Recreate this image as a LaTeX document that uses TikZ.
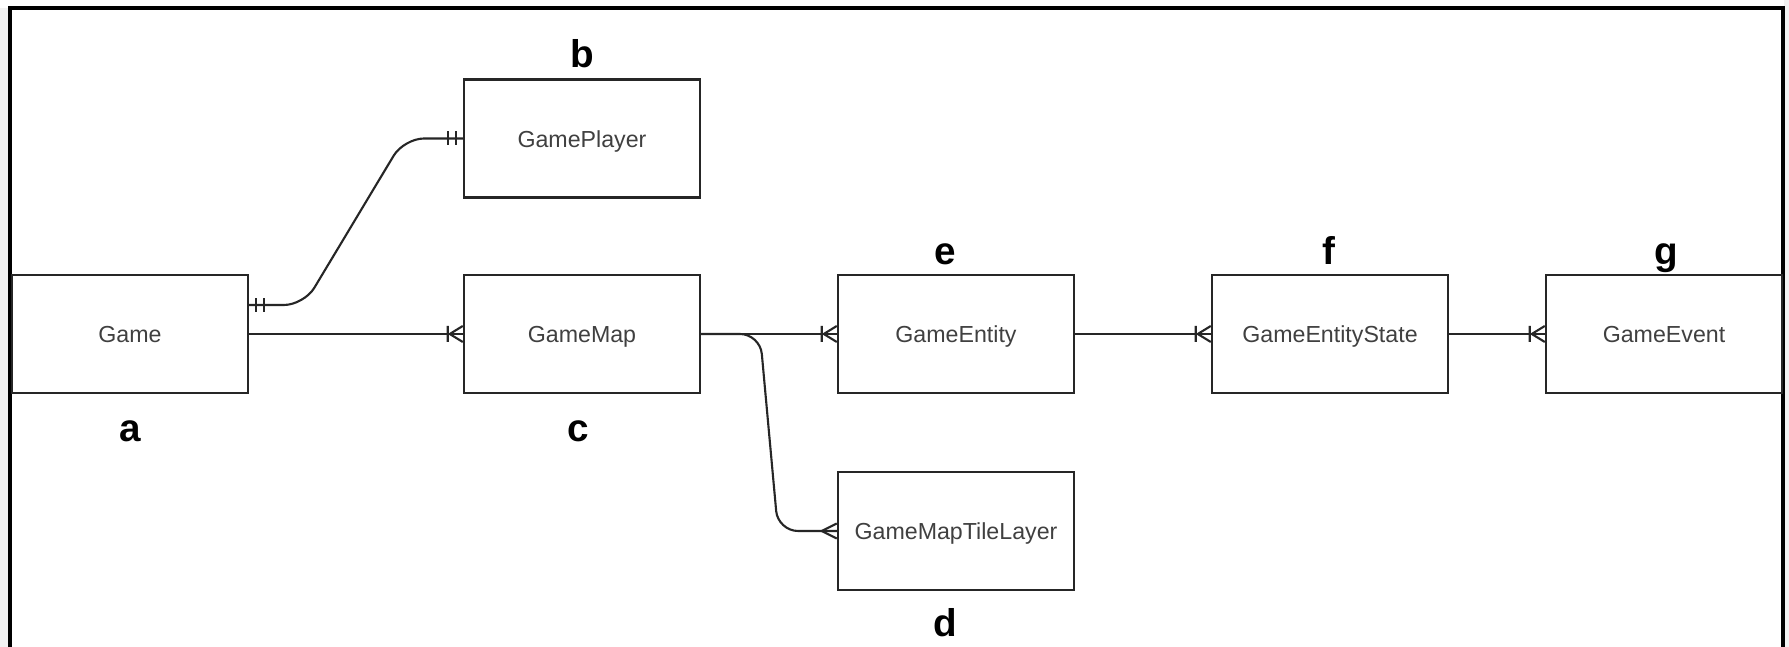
\documentclass[tikz,border=0pt]{standalone}
\usepackage{fontspec}
\setsansfont{Liberation Sans}
\usetikzlibrary{positioning}

\begin{document}
\begin{tikzpicture}[font=\sffamily,
    entity/.style={draw=black!85,line width=0.7pt,fill=white,minimum width=2.36cm,minimum height=1.18cm,
      font=\sffamily\fontsize{6.6}{8}\selectfont,text=black!75,text height=1.6ex,text depth=0.45ex},
    tag/.style={font=\sffamily\bfseries\fontsize{11}{13}\selectfont,text height=1.6ex,text depth=0.45ex},
    rel/.style={draw=black!85,line width=0.6pt},
    onemany/.pic={\draw[rel] (-0.13,0) -- (0,0.08) (-0.13,0) -- (0,-0.08) (-0.15,0.08) -- (-0.15,-0.08);},
    many/.pic={\draw[rel] (-0.15,0) -- (0,0.075) (-0.15,0) -- (0,-0.075);},
    onlyone/.pic={\draw[rel] (-0.07,0.07) -- (-0.07,-0.07) (-0.15,0.07) -- (-0.15,-0.07);}]

  % page and frame
  \useasboundingbox (0,0) rectangle (17.89,6.47);
  \fill[white] (0,0) rectangle (17.89,6.47);
  \fill[black!5] (0,0) rectangle (0.09,6.39);
  \fill[black!5] (17.84,0) rectangle (17.89,6.47);
  \draw[line width=1pt] (0.10,-0.1) -- (0.10,6.39) -- (17.83,6.39) -- (17.83,-0.1);

  % entities
  \node[entity] (game) at (1.30,3.13) {Game};
  \node[entity] (gplayer) at (5.82,5.085) {GamePlayer};
  \node[entity] (gmap) at (5.82,3.13) {GameMap};
  \node[entity] (gentity) at (9.56,3.13) {GameEntity};
  \node[entity] (gstate) at (13.30,3.13) {GameEntityState};
  \node[entity] (gevent) at (16.64,3.13) {GameEvent};
  \node[entity] (gtile) at (9.56,1.16) {GameMapTileLayer};

  % letters
  \node[tag] (ta) at (1.30,2.14) {a};
  \node[tag] (tb) at (5.82,5.88) {b};
  \node[tag] (tc) at (5.78,2.14) {c};
  \node[tag] (td) at (9.45,0.19) {d};
  \node[tag] (te) at (9.45,3.91) {e};
  \node[tag] (tf) at (13.29,3.91) {f};
  \node[tag] (tg) at (16.66,3.91) {g};

  % Game -- GamePlayer: one to one
  \draw[rel,rounded corners=0.2cm] ([yshift=2.9mm]game.east) -- (3.04,3.42) -- (4.04,5.085) -- (gplayer.west);
  \pic[rotate=180] at ([yshift=2.9mm]game.east) {onlyone};
  \pic at (gplayer.west) {onlyone};

  % one to many along the row
  \draw[rel] (game) -- (gmap);
  \pic at (gmap.west) {onemany};
  \draw[rel] (gmap) -- (gentity);
  \pic at (gentity.west) {onemany};
  \draw[rel] (gentity) -- (gstate);
  \pic at (gstate.west) {onemany};
  \draw[rel] (gstate) -- (gevent);
  \pic at (gevent.west) {onemany};

  % GameMap -- GameMapTileLayer
  \draw[rel,rounded corners=0.2cm] (gmap.east) -- (7.60,3.13) -- (7.78,1.16) -- (gtile.west);
  \pic at (gtile.west) {many};
\end{tikzpicture}
\end{document}
